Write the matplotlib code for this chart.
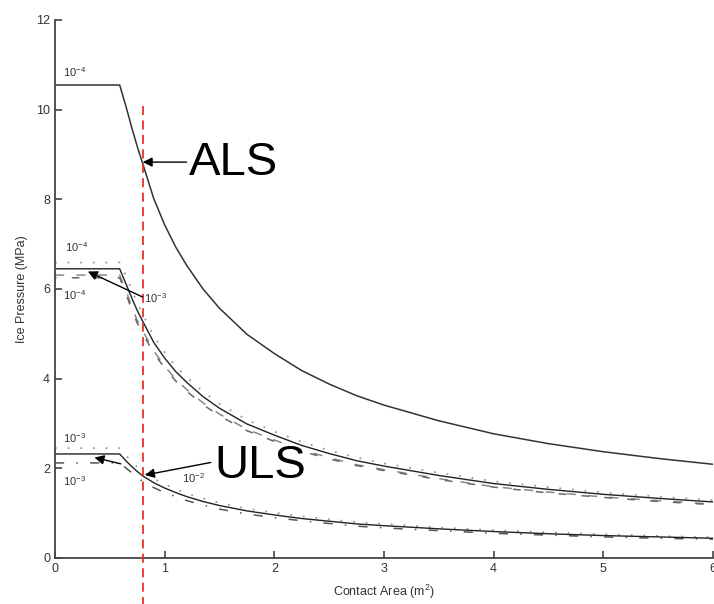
import matplotlib
matplotlib.use('Agg')
import matplotlib.pyplot as plt

plt.rcParams['font.family'] = ['Liberation Sans', 'DejaVu Sans']
plt.rcParams['mathtext.default'] = 'regular'

# Contact area (m^2) where the curves were read
area = [0, 0.59, 0.65, 0.7, 0.75, 0.8, 0.9, 1.0, 1.1, 1.2, 1.35, 1.5, 1.75,
        2.0, 2.25, 2.5, 2.75, 3.0, 3.5, 4.0, 4.5, 5.0, 5.5, 6.0]

# ALS curve (10^-4)
als = [10.55, 10.55, 10.05, 9.6, 9.18, 8.8, 8.02, 7.43, 6.94, 6.53, 6.0, 5.57, 4.99,
       4.56, 4.18, 3.88, 3.62, 3.41, 3.06, 2.77, 2.55, 2.37, 2.22, 2.09]

# middle group (10^-4 / 10^-3)
mid_solid = [6.45, 6.45, 6.1, 5.8, 5.52, 5.28, 4.81, 4.46, 4.16, 3.92, 3.6, 3.34, 2.99,
             2.74, 2.51, 2.33, 2.17, 2.05, 1.84, 1.66, 1.53, 1.42, 1.33, 1.25]
mid_dotted = [6.59, 6.59, 6.28, 5.98, 5.69, 5.44, 4.95, 4.59, 4.28, 4.04, 3.71, 3.44, 3.08,
              2.82, 2.59, 2.4, 2.24, 2.11, 1.9, 1.71, 1.58, 1.46, 1.37, 1.29]
mid_dash1 = [6.31, 6.31, 5.95, 5.6, 5.3, 5.07, 4.62, 4.28, 3.99, 3.76, 3.46, 3.21, 2.87,
             2.63, 2.41, 2.24, 2.08, 1.97, 1.77, 1.59, 1.47, 1.36, 1.28, 1.2]
mid_dash2 = [6.25, 6.25, 5.88, 5.53, 5.24, 5.01, 4.57, 4.24, 3.95, 3.72, 3.42, 3.17, 2.84,
             2.6, 2.38, 2.21, 2.06, 1.95, 1.75, 1.58, 1.45, 1.35, 1.26, 1.19]

# lower group (10^-3 / 10^-2)
low_solid = [2.32, 2.32, 2.16, 2.04, 1.93, 1.83, 1.68, 1.56, 1.46, 1.37, 1.26, 1.17, 1.05,
             0.96, 0.88, 0.82, 0.76, 0.72, 0.65, 0.59, 0.54, 0.5, 0.47, 0.44]
low_dotted = [2.45, 2.45, 2.28, 2.15, 2.03, 1.93, 1.77, 1.64, 1.54, 1.44, 1.33, 1.23, 1.1,
              1.01, 0.93, 0.86, 0.8, 0.76, 0.68, 0.62, 0.57, 0.53, 0.49, 0.46]
low_dash = [2.12, 2.12, 2.0, 1.9, 1.8, 1.71, 1.57, 1.46, 1.37, 1.28, 1.18, 1.09, 0.98,
            0.9, 0.83, 0.77, 0.71, 0.67, 0.61, 0.55, 0.51, 0.47, 0.44, 0.42]

# small probability labels: (x, y, text)
prob_labels = [
    (0.07, 10.72, '10$^{-4}$'),
    (0.09, 6.83, '10$^{-4}$'),
    (0.07, 5.76, '10$^{-4}$'),
    (0.81, 5.69, '10$^{-3}$'),
    (0.07, 2.56, '10$^{-3}$'),
    (0.07, 1.6, '10$^{-3}$'),
    (1.16, 1.67, '10$^{-2}$'),
]

design_area = 0.8

fig = plt.figure(figsize=(7.14, 6.04), dpi=100)
ax = fig.add_axes([0.077, 0.0762, 0.9216, 0.8907])

grey = '#444444'

# curves
ax.plot(area, als, color='#333333', lw=1.1)
ax.plot(area, mid_dotted, color='#999999', lw=1.3, ls=(0, (1, 6)))
ax.plot(area, mid_dash1, color='#888888', lw=1.1, ls=(0, (6, 8)))
ax.plot(area, mid_dash2, color='#666666', lw=1.1, ls=(4, (5, 10)))
ax.plot(area, mid_solid, color='#222222', lw=1.0)
ax.plot(area, low_dotted, color='#999999', lw=1.3, ls=(0, (1, 6)))
ax.plot(area, low_dash, color='#555555', lw=1.1, ls=(0, (6, 8, 1, 8)))
ax.plot(area, low_solid, color='#222222', lw=1.0)

# red design line
ax.plot([design_area, design_area], [10.08, -1.2], color='#e8302a', lw=1.3,
        ls=(0, (5, 3)), clip_on=False, zorder=5)

# arrows
arrow = dict(arrowstyle='-|>', color='black', lw=1.0, mutation_scale=14,
             shrinkA=0, shrinkB=0)
ax.annotate('', xy=(0.8, 8.83), xytext=(1.2, 8.83), arrowprops=arrow, zorder=6)
ax.annotate('', xy=(0.3, 6.39), xytext=(0.8, 5.82), arrowprops=arrow, zorder=6)
ax.annotate('', xy=(0.36, 2.24), xytext=(0.6, 2.1), arrowprops=arrow, zorder=6)
ax.annotate('', xy=(0.82, 1.85), xytext=(1.42, 2.13), arrowprops=arrow, zorder=6)

ax.text(1.22, 8.8, 'ALS', fontsize=34, va='center', ha='left', color='black')
ax.text(1.45, 2.05, 'ULS', fontsize=34, va='center', ha='left', color='black')

for x, y, s in prob_labels:
    ax.text(x, y, s, fontsize=8, color='#333333', ha='left', va='baseline')

ax.set_xlim(0, 6)
ax.set_ylim(0, 12)
ax.set_xticks(range(0, 7))
ax.set_yticks(range(0, 13, 2))
ax.set_xlabel('Contact Area (m$^{2}$)', fontsize=9, color='#333333', labelpad=6)
ax.set_ylabel('Ice Pressure (MPa)', fontsize=9, color='#333333', labelpad=6)

ax.spines['top'].set_visible(False)
ax.spines['right'].set_visible(False)
for s in ('left', 'bottom'):
    ax.spines[s].set_color(grey)
    ax.spines[s].set_linewidth(1.3)
ax.tick_params(direction='in', length=5, width=1.2, color=grey,
               labelcolor='#333333', labelsize=9)

fig.savefig('out.png', dpi=100)
